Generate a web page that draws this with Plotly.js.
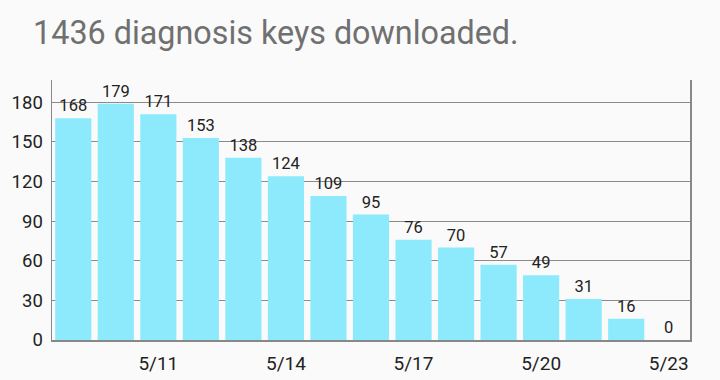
<!DOCTYPE html>
<html><head><meta charset="utf-8">
<script src="https://cdn.plot.ly/plotly-3.0.1.min.js"></script>
<style>html,body{margin:0;padding:0;background:#fafafa;}#c{width:720px;height:380px;}</style>
</head><body><div id="c"></div>
<script>
const dates = ["5/9","5/10","5/11","5/12","5/13","5/14","5/15","5/16","5/17","5/18","5/19","5/20","5/21","5/22","5/23"];
const keys = [168,179,171,153,138,124,109,95,76,70,57,49,31,16,0];
const tickDates = ["5/11","5/14","5/17","5/20","5/23"];
const yTicks = [0,30,60,90,120,150,180];
const total = keys.reduce((a,b)=>a+b,0);

Plotly.newPlot('c', [{
  type: 'bar',
  x: dates,
  y: keys,
  text: keys.map(String),
  textposition: 'outside',
  cliponaxis: false,
  textfont: {family: 'Roboto', size: 16.5, color: '#222222'},
  marker: {color: '#8ceafc'},
  hoverinfo: 'none'
}], {
  width: 720, height: 380,
  paper_bgcolor: '#fafafa', plot_bgcolor: '#fafafa',
  margin: {l: 52, r: 30, t: 80, b: 40},
  bargap: 0.15,
  showlegend: false,
  title: {text: total + ' diagnosis keys downloaded.', x: 0.046, xanchor: 'left', y: 0.915, yanchor: 'middle',
          font: {family: 'Roboto', size: 32.3, color: '#707070', weight: 400}},
  xaxis: {
    type: 'category', range: [-0.5, 14.5],
    tickmode: 'array', tickvals: tickDates, ticktext: tickDates,
    ticks: '', showgrid: false, showline: true, linecolor: '#888888', linewidth: 1.5,
    ticklabelstandoff: 6,
    tickfont: {family: 'Roboto', size: 19, color: '#222222'}
  },
  yaxis: {
    range: [0, 196.9], tickmode: 'array', tickvals: yTicks,
    ticks: '', showgrid: true, gridcolor: '#8a8a8a', gridwidth: 1,
    showline: true, mirror: true, linecolor: '#888888', linewidth: 1.5,
    zeroline: false, ticklabelstandoff: 4,
    tickfont: {family: 'Roboto', size: 18.5, color: '#222222'}
  }
}, {staticPlot: true});
</script></body></html>
